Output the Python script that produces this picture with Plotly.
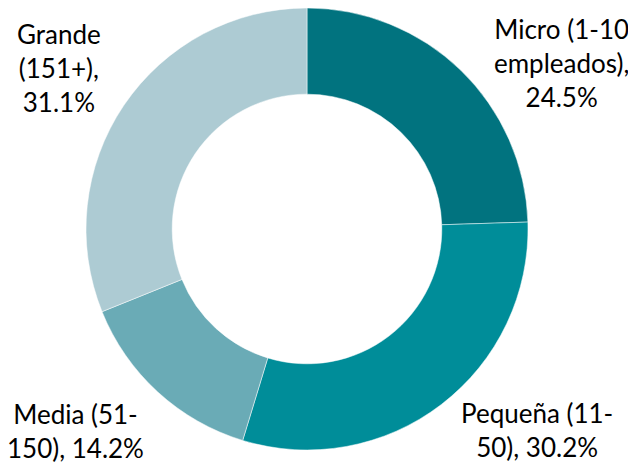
import plotly.graph_objects as go

categories = ["Micro (1-10 empleados)", "Pequeña (11-50)", "Media (51-150)", "Grande (151+)"]
values = [24.5, 30.2, 14.2, 31.1]
colors = ["#01737F", "#008D99", "#6AABB6", "#ADCBD3"]
label_lines = [
    "Micro (1-10<br>empleados),<br>24.5%",
    "Pequeña (11-<br>50), 30.2%",
    "Media (51-<br>150), 14.2%",
    "Grande<br>(151+),<br>31.1%",
]
# label centres in reference-page pixels
label_pos = [(561, 63), (537, 430), (75, 431), (59, 68)]

OFF = 8  # default page body margin
W, H = 636 - OFF, 463 - OFF
cx, cy, r = 307 - OFF, 229 - OFF, 221

fig = go.Figure(go.Pie(
    labels=categories, values=values, sort=False, direction="clockwise", rotation=0,
    hole=0.61, marker=dict(colors=colors, line=dict(color="white", width=0.5)),
    textinfo="none", hoverinfo="label+percent", showlegend=False,
    domain=dict(x=[max(0, (cx - r) / W), min(1, (cx + r) / W)],
                y=[max(0, 1 - (cy + r) / H), min(1, 1 - (cy - r) / H)]),
))

for txt, (px, py) in zip(label_lines, label_pos):
    fig.add_annotation(text=txt, x=(px - OFF) / W, y=1 - (py - OFF) / H, xref="paper", yref="paper",
                       xanchor="center", yanchor="middle", showarrow=False, align="center",
                       font=dict(family="Lato", size=26, color="#000000"))

fig.update_layout(width=W, height=H, margin=dict(l=0, r=0, t=0, b=0),
                  paper_bgcolor="white", plot_bgcolor="white")
fig.write_html("out.html")
